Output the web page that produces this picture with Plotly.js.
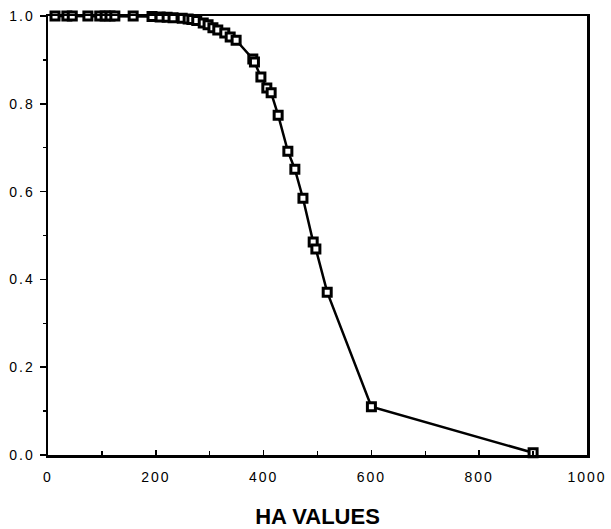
<!DOCTYPE html>
<html>
<head>
<meta charset="utf-8">
<script src="https://cdn.plot.ly/plotly-3.0.1.min.js"></script>
<style>
html,body{margin:0;padding:0;background:#fff;}
#chart{width:611px;height:529px;}
.xtick text, .ytick text{letter-spacing:2px;}
</style>
</head>
<body>
<div id="chart"></div>
<script>
var haValues = [13, 35, 45, 74, 96, 106, 115, 124, 158, 193, 208, 221, 232, 249, 260, 267, 276,
  288, 297, 306, 315, 328, 338, 349, 380, 383, 395, 406, 414, 427,
  445, 458, 473, 492, 497, 518, 600, 900];
var proportion = [1.0, 1.0, 1.0, 1.0, 1.0, 1.0, 1.0, 1.0, 1.0, 0.999, 0.998, 0.997, 0.996, 0.995, 0.993, 0.992, 0.99,
  0.984, 0.98, 0.973, 0.968, 0.961, 0.952, 0.945, 0.902, 0.895, 0.861, 0.836, 0.825, 0.774,
  0.692, 0.651, 0.585, 0.485, 0.469, 0.371, 0.11, 0.005];
var xTickVals = [0, 200, 400, 600, 800, 1000];
var xTickText = ['0', '200', '400', '600', '800', '1000'];
var yTickVals = [0, 0.2, 0.4, 0.6, 0.8, 1.0];
var yTickText = ['0.0', '0.2', '0.4', '0.6', '0.8', '1.0'];
var xTitle = 'HA VALUES';

var trace = {
  x: haValues, y: proportion, type: 'scatter', mode: 'lines+markers',
  line: {color: '#000', width: 2.5},
  marker: {symbol: 'square', size: 8, color: '#fff', line: {color: '#000', width: 3}},
  cliponaxis: false, showlegend: false
};
var tf = {family: 'Liberation Sans, Arial, sans-serif', size: 14, color: '#000'};
var layout = {
  width: 611, height: 529,
  margin: {l: 48, r: 24, t: 16, b: 74},
  paper_bgcolor: '#fff', plot_bgcolor: '#fff',
  font: tf,
  xaxis: {
    range: [0, 1000], tickmode: 'array', tickvals: xTickVals, ticktext: xTickText,
    showgrid: false, zeroline: false, showline: true, linecolor: '#000', linewidth: 2.5, mirror: true,
    ticks: 'inside', ticklen: 5, tickwidth: 1.5, tickcolor: '#000', ticklabelstandoff: 8,
    minor: {dtick: 100, ticks: 'inside', ticklen: 4, tickwidth: 1.5, tickcolor: '#000', showgrid: false},
    tickfont: tf,
    title: {text: xTitle, font: {family: 'Liberation Sans, Arial, sans-serif', size: 22, color: '#000', weight: 'bold'}, standoff: 28}
  },
  yaxis: {
    range: [0, 1], tickmode: 'array', tickvals: yTickVals, ticktext: yTickText,
    showgrid: false, zeroline: false, showline: true, linecolor: '#000', linewidth: 2.5, mirror: true,
    ticks: 'outside', ticklen: 6, tickwidth: 1.5, tickcolor: '#000', ticklabelstandoff: 2,
    minor: {dtick: 0.1, ticks: 'outside', ticklen: 3, tickwidth: 1.5, tickcolor: '#000', showgrid: false},
    tickfont: tf
  }
};
Plotly.newPlot('chart', [trace], layout, {staticPlot: true, displayModeBar: false});
</script>
</body>
</html>
